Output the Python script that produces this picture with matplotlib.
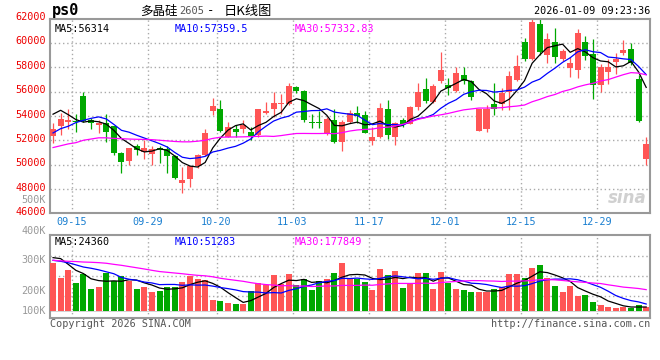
import numpy as np
import pandas as pd
import matplotlib
matplotlib.use("Agg")
import matplotlib.pyplot as plt

plt.rcParams['font.family'] = ['DejaVu Sans Mono', 'Noto Sans CJK SC']

# ---- data (79 trading days) ----
opens = [52380, 53190, 53500, 53620, 55660, 53640, 53260, 53425, 53150, 50960,
         50270, 51500, 51010, 50880, 51400, 51290, 50710, 48490, 48800, 49860,
         50770, 54410, 54550, 52300, 52960, 52960, 52690, 52440, 54270, 54580,
         54990, 54960, 56360, 56050, 53530, 53530, 52550, 53670, 51890, 53480,
         54270, 54080, 51970, 52270, 54580, 52300, 53670, 53370, 54690, 56250,
         55150, 56900, 56550, 56060, 57370, 56870, 52800, 52940, 54990, 54990,
         56000, 56960, 60100, 58650, 61520, 59000, 60040, 58650, 57900, 57800,
         60060, 59090, 56500, 57640, 58400, 59200, 59500, 57030, 50490]
highs = [53430, 54270, 54560, 54140, 56000, 53840, 53670, 54190, 53200, 51000,
         51400, 51730, 52000, 51510, 51510, 51510, 50770, 49810, 49920, 50900,
         52900, 55510, 55290, 53510, 53230, 53670, 53120, 54580, 55120, 56000,
         55780, 56710, 56490, 56140, 54160, 54440, 53950, 54580, 53670, 54490,
         54820, 54440, 53120, 55100, 55320, 53510, 53840, 54820, 56690, 57100,
         56630, 59220, 57090, 57990, 57990, 56960, 54580, 54910, 56740, 56270,
         57690, 59000, 60370, 61990, 61990, 60780, 61190, 59500, 58870, 61100,
         60600, 60300, 58300, 58650, 59140, 60230, 60020, 57360, 52290]
lows = [51800, 52410, 52900, 52700, 53500, 52900, 52630, 51860, 50770, 49320,
        49950, 50770, 50440, 50000, 50140, 49320, 48800, 47700, 48160, 49700,
        50700, 54110, 52700, 52250, 52250, 52630, 52030, 52250, 54160, 53950,
        54160, 54900, 55900, 53530, 53040, 53040, 52400, 51810, 51150, 53400,
        53400, 52580, 51620, 52200, 52110, 51620, 53120, 53300, 54490, 55040,
        55100, 56740, 55730, 56000, 56600, 55320, 52720, 52640, 54090, 54500,
        54500, 56900, 58500, 58600, 59000, 58320, 58320, 58500, 57230, 57100,
        58600, 55400, 56000, 56600, 57440, 59000, 58200, 53500, 49970]
closes = [52920, 53740, 53660, 53540, 53580, 53420, 53400, 52685, 50960, 50250,
          51370, 51230, 51400, 51290, 51230, 50710, 48900, 48710, 49860, 50820,
          52580, 54850, 52770, 53120, 52690, 53290, 52360, 54580, 54440, 55070,
          55010, 56470, 56050, 53670, 53400, 53400, 53730, 51890, 53510, 54270,
          54030, 52630, 52270, 54660, 52440, 53430, 53320, 54740, 55970, 55230,
          56470, 57780, 56330, 57560, 56870, 55540, 54580, 54580, 54580, 55860,
          57280, 58130, 58650, 61700, 59280, 60290, 58870, 59330, 58350, 60780,
          58950, 56500, 57980, 58020, 58670, 59410, 58320, 53610, 51690]
volumes = [396, 273, 339, 232, 306, 183, 199, 312, 248, 289,
           248, 183, 199, 158, 166, 199, 199, 240, 289, 265,
           257, 93, 84, 68, 60, 60, 166, 232, 216, 298,
           224, 306, 216, 265, 175, 248, 265, 314, 396, 273,
           265, 240, 175, 347, 298, 330, 191, 232, 314, 314,
           183, 322, 232, 183, 175, 158, 158, 158, 183, 199,
           306, 306, 273, 355, 380, 273, 207, 158, 207, 125,
           134, 76, 52, 35, 27, 35, 27, 52, 35]  # thousands

# moving-average values before the window fills
ma5_head = [54140, 54460, 54100, 53700]
ma10_head = [52600, 52950, 53150, 53450, 53640, 53800, 53920, 53750, 53300]
ma30_head = [51400, 51550, 51700, 51800, 52000, 52100, 52200, 52200, 52150, 52130,
             52100, 52080, 52070, 52050, 52000, 51950, 51900, 51870, 51870, 51920,
             52000, 52150, 52250, 52260, 52270, 52280, 52300, 52320, 52340]
vma5_head = [440, 432, 385, 336]
vma10_head = [418, 410, 398, 381, 363, 353, 340, 324, 308]
vma30_head = [418, 414, 410, 408, 404, 402, 399, 394, 385, 377,
              367, 357, 347, 336, 326, 320, 314, 308, 301, 295,
              291, 283, 271, 262, 254, 246, 235, 226, 219]

date_idx = [3, 13, 22, 32, 42, 52, 62, 72]
date_labels = ["09-15", "09-29", "10-20", "11-03", "11-17", "12-01", "12-15", "12-29"]


def moving(values, n, head):
    m = pd.Series(values, dtype=float).rolling(n).mean().to_numpy()
    m[:len(head)] = head
    return m


x = np.arange(len(closes))
o = np.array(opens)
c = np.array(closes)
vol = np.array(volumes) * 1000.0
up = c >= o
RED = '#ff5555'
GREEN = '#00a800'
cols = np.where(up, RED, GREEN)

W, H = 660, 360
def fx(px):
    return px / W
def fy(py):
    return 1 - py / H

fig = plt.figure(figsize=(6.6, 3.6), dpi=100)
ax = fig.add_axes([fx(50), fy(213.3), 600 / W, (213.3 - 18.5) / H])
axv = fig.add_axes([fx(50), fy(318), 600 / W, (318 - 234.5) / H])

grid_kw = dict(color='#aaaaaa', lw=1.0, ls=(0, (1, 2)), zorder=0)
for a in (ax, axv):
    for gi in date_idx:
        a.axvline(gi - 0.5, **grid_kw)
    for s in a.spines.values():
        s.set_color('#999999')
        s.set_linewidth(1.5)
    a.set_xticks([])
    a.set_yticks([])
    a.set_xlim(-0.4, 78.5)

# price panel
for p in range(48000, 62000, 2000):
    ax.axhline(p, **grid_kw)
ax.vlines(x, lows, highs, colors=cols, lw=0.9, zorder=2)
body = np.maximum(np.abs(c - o), 60)
ax.bar(x, body, bottom=np.minimum(o, c), width=0.79, color=cols, zorder=3)
ax.plot(x, moving(closes, 5, ma5_head), color='black', lw=0.9, zorder=4)
ax.plot(x, moving(closes, 10, ma10_head), color='#0000ff', lw=0.9, zorder=4)
ax.plot(x, moving(closes, 30, ma30_head), color='#ff00ff', lw=0.9, zorder=4)
ax.set_ylim(46000, 62000)

for p in range(46000, 62001, 2000):
    ax.annotate(str(p), xy=(0, p), xycoords=('axes fraction', 'data'),
                xytext=(-3, 1), textcoords='offset points',
                ha='right', va='center', color='#ee0000', fontsize=7.3)
fig.text(fx(46), fy(200), "500K", ha='right', va='center', color='#999999', fontsize=7.3)

ax.text(0.008, 0.97, "MA5:56314", transform=ax.transAxes, color='black',
        fontsize=7.3, va='top', ha='left')
ax.text(125 / 600, 0.97, "MA10:57359.5", transform=ax.transAxes,
        color='#0000ff', fontsize=7.3, va='top', ha='left')
ax.text(245 / 600, 0.97, "MA30:57332.83", transform=ax.transAxes,
        color='#ff00ff', fontsize=7.3, va='top', ha='left')
ax.text(0.995, 0.08, "sina", transform=ax.transAxes, color='#d0d0d0',
        fontsize=12, fontweight='bold', style='italic', ha='right', va='center',
        family='DejaVu Sans', zorder=1)

# volume panel
vtop = (311.3 - 234.5) * 8200
vbot = -(318 - 311.3) * 8200
for hpx in (55.3, 35.3, 15.3):
    axv.axhline(hpx * 8200, **grid_kw)
axv.axhline(0, color='#cccccc', lw=0.6, zorder=0)
axv.bar(x, vol, width=0.79, color=cols, zorder=3)
axv.plot(x, moving(vol, 5, np.array(vma5_head) * 1000.0), color='black', lw=0.9, zorder=4)
axv.plot(x, moving(vol, 10, np.array(vma10_head) * 1000.0), color='#0000ff', lw=0.9, zorder=4)
axv.plot(x, moving(vol, 30, np.array(vma30_head) * 1000.0), color='#ff00ff', lw=0.9, zorder=4)
axv.set_ylim(vbot, vtop)

axv.text(0.008, 0.97, "MA5:24360", transform=axv.transAxes, color='black',
         fontsize=7.3, va='top', ha='left')
axv.text(125 / 600, 0.97, "MA10:51283", transform=axv.transAxes,
         color='#0000ff', fontsize=7.3, va='top', ha='left')
axv.text(245 / 600, 0.97, "MA30:177849", transform=axv.transAxes,
         color='#ff00ff', fontsize=7.3, va='top', ha='left')

for lab, py in zip(["400K", "300K", "200K", "100K"], [231, 260, 291, 311]):
    fig.text(fx(46), fy(py), lab, ha='right', va='center', color='#999999', fontsize=7.3)

# date labels between the panels
for gi, lab in zip(date_idx, date_labels):
    ax.annotate(lab, xy=(gi - 0.5, 0), xycoords=('data', 'axes fraction'),
                xytext=(0, -6), textcoords='offset points',
                ha='center', va='center', color='#1a7fd0', fontsize=7.3)

# header and footer
fig.text(fx(52), fy(11), "ps0", ha='left', va='center', fontsize=11,
         fontweight='bold', color='black')
fig.text(fx(140), fy(11), "多晶硅", ha='left', va='center', fontsize=9,
         family=['Noto Sans CJK SC'], color='black')
fig.text(fx(179), fy(11), "2605", ha='left', va='center', fontsize=7.5,
         color='#555555')
fig.text(fx(207), fy(11), "-", ha='left', va='center', fontsize=9,
         color='black')
fig.text(fx(224), fy(11), "日K线图", ha='left', va='center', fontsize=9.5,
         family=['Noto Sans CJK SC', 'DejaVu Sans'], color='black')
fig.text(fx(650), fy(11), "2026-01-09 09:23:36", ha='right', va='center',
         fontsize=7.3, color='black')
fig.text(fx(50), fy(324), "Copyright 2026 SINA.COM", ha='left', va='center',
         fontsize=7.3, color='#555555')
fig.text(fx(650), fy(324), "http://finance.sina.com.cn", ha='right', va='center',
         fontsize=7.3, color='#555555')

fig.savefig("out.png", dpi=100, facecolor='white')
